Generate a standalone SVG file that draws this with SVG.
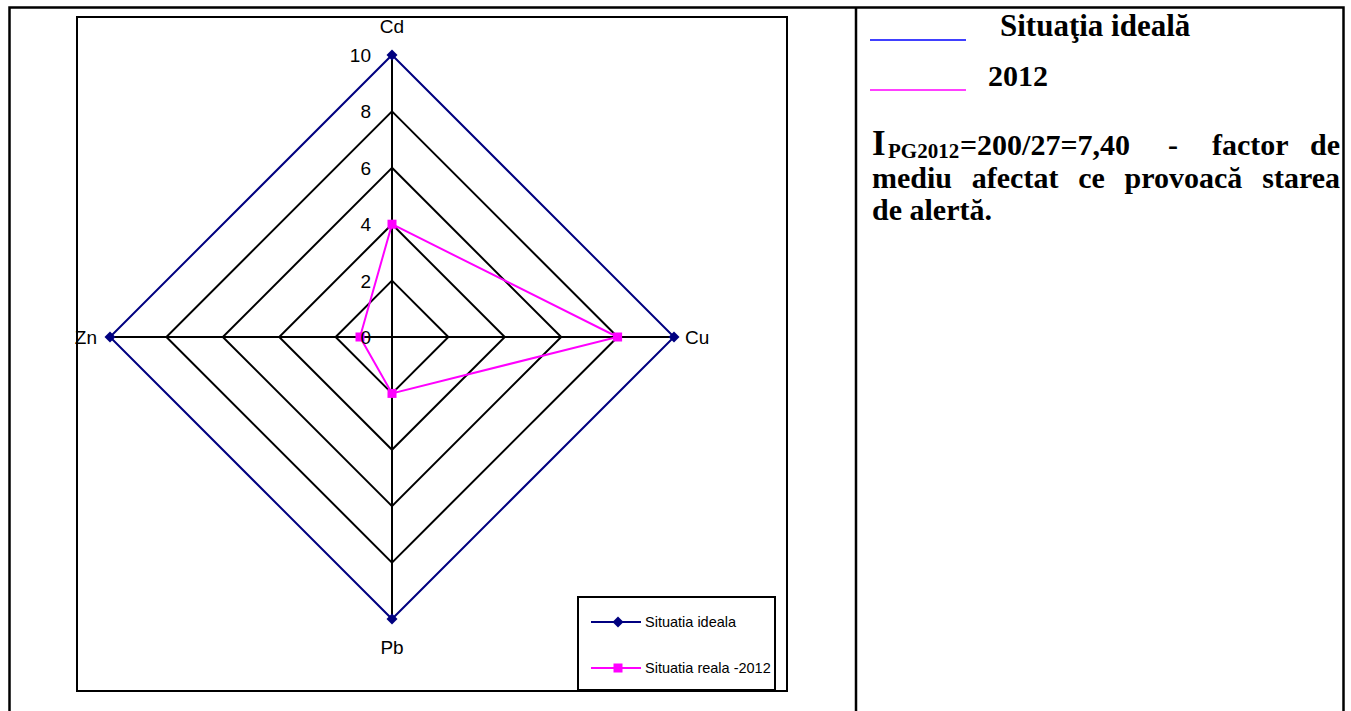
<svg xmlns="http://www.w3.org/2000/svg" width="1351" height="711" viewBox="0 0 1351 711">
<defs>
<style>
.frame{fill:none;stroke:#000;stroke-width:2.5}
.grid{fill:none;stroke:#000;stroke-width:2}
.ideal{fill:none;stroke:#000080;stroke-width:2}
.real{fill:none;stroke:#FF00FF;stroke-width:2}
.lbl{font-family:"Liberation Sans",Arial,sans-serif;font-size:19px;fill:#000}
.leg{font-family:"Liberation Sans",Arial,sans-serif;font-size:14.5px;fill:#000}
.rt{font-family:"Liberation Serif","Times New Roman",serif;font-weight:bold;font-size:30px;fill:#000}
</style>
<path id="dia" d="M0,-5.5 L5.5,0 L0,5.5 L-5.5,0 Z" fill="#000080"/>
<rect id="sq" x="-4.5" y="-4.5" width="9" height="9" fill="#FF00FF"/>
</defs>
<rect width="1351" height="711" fill="#fff"/>
<g id="table">
<rect class="frame" x="9.5" y="7.5" width="1334" height="710"/>
<line class="frame" x1="856" y1="7" x2="856" y2="711"/>
</g>
<g id="chart-frame">
<rect x="77" y="17" width="710" height="674" fill="none" stroke="#000" stroke-width="2"/>
</g>
<g id="connectors">
<polygon class="grid" points="392,280.6 448.4,337 392,393.4 335.6,337"/>
<polygon class="grid" points="392,224.2 504.8,337 392,449.8 279.2,337"/>
<polygon class="grid" points="392,167.8 561.2,337 392,506.2 222.8,337"/>
<polygon class="grid" points="392,111.4 617.6,337 392,562.6 166.4,337"/>
<line class="grid" x1="392" y1="55" x2="392" y2="619"/>
<line class="grid" x1="110" y1="337" x2="674" y2="337"/>
<polygon class="ideal" points="392,55 674,337 392,619 110,337"/>
<polygon class="real" points="392,224.2 617.6,337 392,393.4 360,337"/>
</g>
<g id="markers">
<use href="#dia" x="392" y="55"/>
<use href="#dia" x="674" y="337"/>
<use href="#dia" x="392" y="619"/>
<use href="#dia" x="110" y="337"/>
<use href="#sq" x="392" y="224.2"/>
<use href="#sq" x="617.6" y="337"/>
<use href="#sq" x="392" y="393.4"/>
<use href="#sq" x="360" y="337"/>
</g>
<g id="tick-labels" text-anchor="end">
<text class="lbl" x="371" y="344">0</text>
<text class="lbl" x="371" y="288">2</text>
<text class="lbl" x="371" y="231">4</text>
<text class="lbl" x="371" y="175">6</text>
<text class="lbl" x="371" y="118">8</text>
<text class="lbl" x="371" y="62">10</text>
</g>
<g id="axis-labels">
<text class="lbl" x="392" y="33" text-anchor="middle">Cd</text>
<text class="lbl" x="685" y="344">Cu</text>
<text class="lbl" x="97" y="344" text-anchor="end">Zn</text>
<text class="lbl" x="392" y="654" text-anchor="middle">Pb</text>
</g>
<g id="legend">
<rect x="578" y="597" width="197" height="93" fill="#fff" stroke="#000" stroke-width="2"/>
<line x1="591" y1="622" x2="641" y2="622" stroke="#000080" stroke-width="2"/>
<use href="#dia" x="618" y="622"/>
<text class="leg" x="645" y="627">Situatia ideala</text>
<line x1="591" y1="668" x2="641" y2="668" stroke="#FF00FF" stroke-width="2"/>
<use href="#sq" x="618" y="668"/>
<text class="leg" x="645" y="673">Situatia reala -2012</text>
</g>
<g id="right-legend">
<line x1="870" y1="40" x2="966" y2="40" stroke="#0000FF" stroke-width="1.5"/>
<text class="rt" x="1000" y="36" style="font-size:31px">Situaţia ideală</text>
<line x1="870" y1="90" x2="966" y2="90" stroke="#FF00FF" stroke-width="1.5"/>
<text class="rt" x="988" y="86">2012</text>
</g>
<g id="note">
<text class="rt" x="872" y="155" style="font-size:35px">I</text>
<text class="rt" x="888" y="158" style="font-size:21px">PG2012</text>
<text class="rt" x="960" y="155">=200/27=7,40</text>
<text class="rt" x="1168" y="155">-</text>
<text class="rt" x="1212" y="155">factor</text>
<text class="rt" x="1340" y="155" text-anchor="end">de</text>
<text class="rt" x="872" y="188">mediu</text>
<text class="rt" x="971.8" y="188">afectat</text>
<text class="rt" x="1078.2" y="188">ce</text>
<text class="rt" x="1124.6" y="188">provoacă</text>
<text class="rt" x="1340" y="188" text-anchor="end">starea</text>
<text class="rt" x="872" y="220">de alertă.</text>
</g>
</svg>
